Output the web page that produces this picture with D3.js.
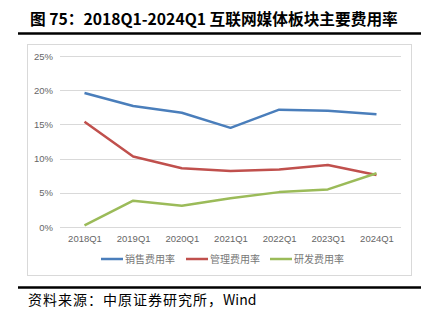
<!DOCTYPE html>
<html>
<head>
<meta charset="utf-8">
<script src="https://cdn.jsdelivr.net/npm/d3@7"></script>
<style>
  html, body { margin: 0; padding: 0; background: #fff; }
  svg { display: block; }
</style>
</head>
<body>
<svg id="chart" width="433" height="326"></svg>
<script>
// Quarterly expense ratios (%) for the internet media sector
const quarters = ["2018Q1", "2019Q1", "2020Q1", "2021Q1", "2022Q1", "2023Q1", "2024Q1"];
const salesRate = [19.6, 17.7, 16.7, 14.5, 17.15, 17.0, 16.5];
const adminRate = [15.4, 10.3, 8.6, 8.2, 8.4, 9.05, 7.6];
const rdRate = [0.25, 3.85, 3.1, 4.2, 5.1, 5.5, 7.85];
const seriesNames = ["销售费用率", "管理费用率", "研发费用率"];
const yTicks = [0, 5, 10, 15, 20, 25];

const colors = ["#4a7ebb", "#c0504d", "#9bbb59"];
const series = [salesRate, adminRate, rdRate];

const svg = d3.select("#chart");
const cjk = "'Noto Sans CJK SC', 'Noto Sans', sans-serif";

// Title and rules
svg.append("text")
  .attr("x", 30).attr("y", 25)
  .attr("font-family", cjk)
  .attr("font-size", 15.7).attr("font-weight", "bold")
  .attr("fill", "#000")
  .text("图 75：2018Q1-2024Q1 互联网媒体板块主要费用率");
svg.append("line").attr("x1", 18).attr("x2", 421).attr("y1", 33.5).attr("y2", 33.5)
  .attr("stroke", "#000").attr("stroke-width", 2.5);
svg.append("line").attr("x1", 18).attr("x2", 421).attr("y1", 287.5).attr("y2", 287.5)
  .attr("stroke", "#000").attr("stroke-width", 2.5);
const src = svg.append("text")
  .attr("x", 28).attr("y", 305)
  .attr("font-family", cjk)
  .attr("font-size", 14)
  .attr("fill", "#000");
src.append("tspan").attr("letter-spacing", 1).text("资料来源：中原证券研究所，");
src.append("tspan").text("Wind");

// Chart frame
svg.append("rect").attr("x", 27.5).attr("y", 44.5).attr("width", 384).attr("height", 231)
  .attr("fill", "none").attr("stroke", "#d9d9d9").attr("stroke-width", 1);

const x = d3.scalePoint().domain(quarters).range([84.5, 376.5]);
const y = d3.scaleLinear().domain([0, 25]).range([227, 56]);

// Gridlines
svg.append("g").selectAll("line").data(yTicks).join("line")
  .attr("x1", 60).attr("x2", 401)
  .attr("y1", d => Math.round(y(d)) + 0.5).attr("y2", d => Math.round(y(d)) + 0.5)
  .attr("stroke", "#d9d9d9").attr("stroke-width", 1);

// Y axis labels
const yAxis = d3.axisLeft(y).tickValues(yTicks).tickSize(0).tickPadding(0)
  .tickFormat(d => d + "%");
svg.append("g").attr("transform", "translate(53,0)").call(yAxis)
  .call(g => g.select(".domain").remove())
  .call(g => g.selectAll("text")
    .attr("font-family", "'Liberation Sans', Arial, sans-serif")
    .attr("font-size", 9.5).attr("fill", "#666"));

// X axis labels
const xAxis = d3.axisBottom(x).tickSize(0).tickPadding(0);
svg.append("g").attr("transform", "translate(0,235)").call(xAxis)
  .call(g => g.select(".domain").remove())
  .call(g => g.selectAll("text")
    .attr("font-family", "'Liberation Sans', Arial, sans-serif")
    .attr("font-size", 9.5).attr("fill", "#666"));

// Lines
const line = d3.line().x((d, i) => x(quarters[i])).y(d => y(d));
series.forEach((s, k) => {
  svg.append("path").datum(s)
    .attr("d", line)
    .attr("fill", "none")
    .attr("stroke", colors[k])
    .attr("stroke-width", 2.5)
    .attr("stroke-linejoin", "round");
});

// Legend
const legendX = [101, 186, 270];
seriesNames.forEach((name, k) => {
  const g = svg.append("g").attr("transform", `translate(${legendX[k]},259)`);
  g.append("line").attr("x1", 0).attr("x2", 22).attr("y1", 0).attr("y2", 0)
    .attr("stroke", colors[k]).attr("stroke-width", 2.5);
  g.append("text").attr("x", 24).attr("y", 3.5)
    .attr("font-family", cjk).attr("font-size", 10)
    .attr("fill", "#777").text(name);
});
</script>
</body>
</html>
